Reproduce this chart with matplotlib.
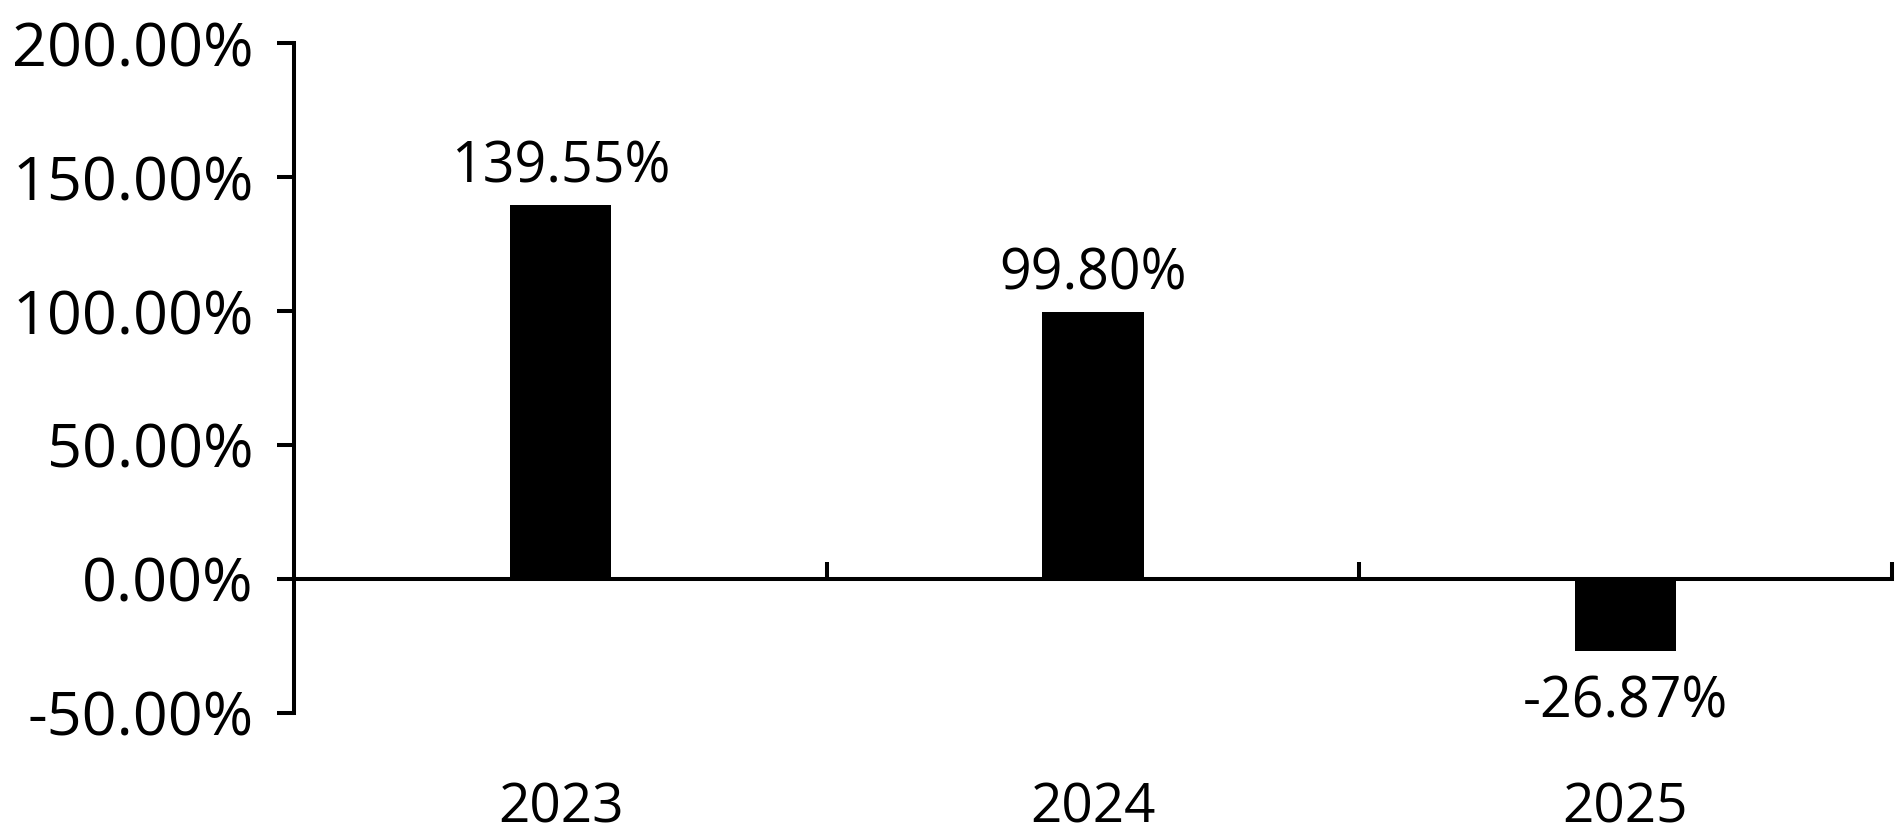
import matplotlib
matplotlib.use("Agg")
import matplotlib.pyplot as plt
from matplotlib.ticker import FixedLocator, FuncFormatter

categories = ["2023", "2024", "2025"]
values = [139.55, 99.80, -26.87]
yticks = [-50, 0, 50, 100, 150, 200]

plt.rcParams['font.family'] = ['Open Sans', 'DejaVu Sans']

W, H = 1900, 833
fig = plt.figure(figsize=(W / 100, H / 100), dpi=100)
left, right, top, bottom = 294.4, 1891.7, 43.3, 712.7
ax = fig.add_axes([left / W, 1 - bottom / H, (right - left) / W, (bottom - top) / H])

x = list(range(len(categories)))
bars = ax.bar(x, values, width=0.19, color="black", zorder=1)

ax.set_xlim(-0.5, len(categories) - 0.5)
ax.set_ylim(-50, 200)

lw = 2.9
for s in ["top", "right"]:
    ax.spines[s].set_visible(False)
ax.spines["left"].set_linewidth(lw)
ax.spines["bottom"].set_linewidth(lw)
ax.spines["bottom"].set_position(("data", 0))
ax.spines["bottom"].set_zorder(3)

ax.yaxis.set_major_locator(FixedLocator(yticks))
ax.yaxis.set_major_formatter(FuncFormatter(lambda v, p: f"{v:.2f}%"))
ax.tick_params(axis="y", direction="out", length=12.2, width=lw, labelsize=44, pad=17)

ax.set_xticks(x)
ax.set_xticklabels(categories)
ax.xaxis.set_minor_locator(FixedLocator([i + 0.5 for i in x]))
ax.tick_params(axis="x", which="major", length=0, labelsize=39.5, pad=145)
ax.tick_params(axis="x", which="minor", direction="in", length=12.2, width=lw)

pos_labels = [f"{v:.2f}%" if v >= 0 else "" for v in values]
neg_labels = [f"{v:.2f}%" if v < 0 else "" for v in values]
ax.bar_label(bars, labels=pos_labels, fontsize=40, padding=6)
ax.bar_label(bars, labels=neg_labels, fontsize=40, padding=17)

fig.savefig("out.png", dpi=100)
